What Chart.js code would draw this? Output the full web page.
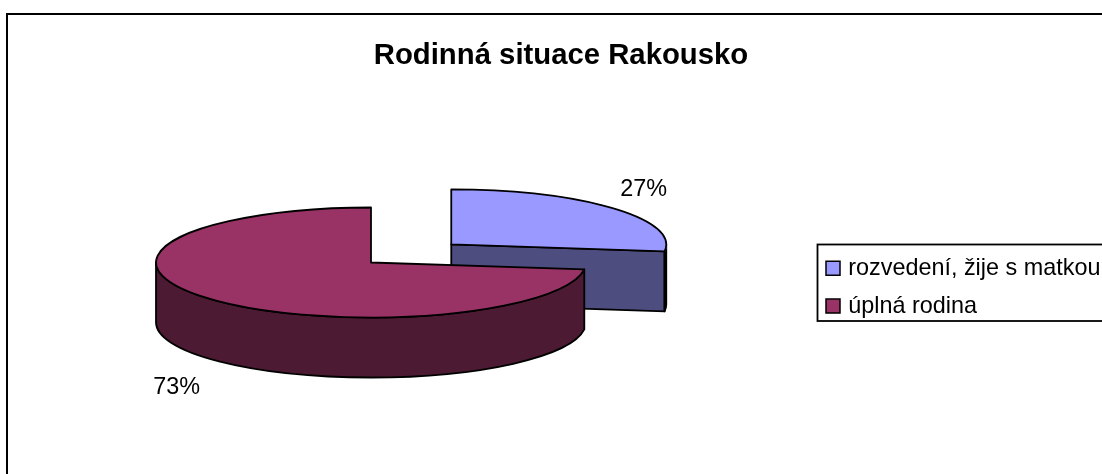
<!DOCTYPE html>
<html lang="cs"><head><meta charset="utf-8">
<style>html,body{margin:0;padding:0;background:#fff;overflow:hidden}#w{width:1102px;height:474px;position:relative}</style>
<script src="https://cdn.jsdelivr.net/npm/chart.js@4"></script>
</head><body><div id="w"><canvas id="c"></canvas></div>
<script>
const titleText = 'Rodinná situace Rakousko';
const categories = ['rozvedení, žije s matkou', 'úplná rodina'];
const shares = [27, 73];
const topColors = ['#9999FF', '#993366'];
const wallColors = ['#4D4D80', '#4D1A33'];
const sliceOffsets = [214, 0];

const ZOOM = 2, TILT = 55 / 215, DEPTH = 60, CENTER_X = 371, CENTER_Y = 262.5, LINE = 1.8;
const FONT = '"Liberation Sans", Arial, sans-serif';

function geom(arc) {
  const p = arc.getProps(['startAngle','endAngle','outerRadius']);
  const off = (arc.options.offset || 0) / 4 * ZOOM, mid = (p.startAngle + p.endAngle) / 2;
  const r = p.outerRadius * ZOOM;
  return { a0: p.startAngle, a1: p.endAngle, r, mid,
    x: CENTER_X + Math.cos(mid) * off, y: CENTER_Y + TILT * Math.sin(mid) * off, ry: r * TILT };
}

const pie3d = {
  id: 'pie3d',
  afterLayout(chart) {
    const t = chart.titleBlock; t.left = 8; t.right = 1114;
    const l = chart.legend; l.left = 815; l.top = 242; l.right = 1102; l.bottom = 474;
  },
  beforeDraw(chart) {
    const c = chart.ctx;
    c.save(); c.strokeStyle = '#000'; c.lineWidth = 2;
    c.strokeRect(7, 14, 1200, 600);
    c.lineWidth = 1.8; c.strokeRect(817.5, 244.5, 400, 76.5);
    c.restore();
  },
  beforeDatasetsDraw(chart) {
    const c = chart.ctx, arcs = chart.getDatasetMeta(0).data;
    arcs.forEach((arc, i) => {
      const g = geom(arc);
      c.save(); c.fillStyle = wallColors[i]; c.strokeStyle = '#000'; c.lineWidth = LINE; c.lineJoin = 'round';
      const ex = g.x + g.r * Math.cos(g.a1), ey = g.y + g.ry * Math.sin(g.a1);
      if (i === 0) {
        c.beginPath(); c.moveTo(g.x, g.y); c.lineTo(ex, ey); c.lineTo(ex, ey + DEPTH); c.lineTo(g.x, g.y + DEPTH); c.closePath();
        c.fill(); c.stroke();
      }
      const w0 = Math.max(g.a0, 0), w1 = Math.min(g.a1, Math.PI);
      if (w1 > w0) {
        c.beginPath();
        c.ellipse(g.x, g.y, g.r, g.ry, 0, w0, w1);
        c.ellipse(g.x, g.y + DEPTH, g.r, g.ry, 0, w1, w0, true);
        c.closePath(); c.fill(); c.stroke();
      }
      c.restore();
    });
    const a = arcs[0];
    c.save();
    c.translate(CENTER_X, CENTER_Y); c.scale(ZOOM, ZOOM * TILT); c.translate(-a.x, -a.y);
  },
  afterDatasetsDraw(chart) {
    const c = chart.ctx, arcs = chart.getDatasetMeta(0).data;
    c.restore();
    arcs.forEach(arc => {
      const g = geom(arc);
      c.save(); c.strokeStyle = '#000'; c.lineWidth = LINE; c.lineJoin = 'round';
      c.beginPath(); c.moveTo(g.x, g.y);
      c.ellipse(g.x, g.y, g.r, g.ry, 0, g.a0, g.a1);
      c.closePath(); c.stroke(); c.restore();
    });
    const total = shares.reduce((a, b) => a + b, 0);
    const nudges = [[31, -18.5], [-33, 89]];
    c.save(); c.fillStyle = '#000'; c.font = '23.4px ' + FONT; c.textAlign = 'center'; c.textBaseline = 'middle';
    arcs.forEach((arc, i) => {
      const g = geom(arc);
      const lx = g.x + g.r * Math.cos(g.mid) + nudges[i][0];
      const ly = g.y + g.ry * Math.sin(g.mid) + nudges[i][1];
      c.fillText(Math.round(shares[i] / total * 100) + '%', lx, ly);
    });
    c.restore();
  }
};

new Chart(document.getElementById('c'), {
  type: 'pie',
  data: { labels: categories, datasets: [{ data: shares, backgroundColor: topColors, borderWidth: 0, offset: sliceOffsets, radius: 107.5 }] },
  options: {
    responsive: true, maintainAspectRatio: false, animation: false,
    plugins: {
      tooltip: { enabled: false },
      title: { display: true, text: titleText, color: '#000', padding: { top: 38, bottom: 10 }, font: { family: FONT, size: 29.3, weight: 'bold' } },
      legend: {
        position: 'chartArea', align: 'start',
        labels: {
          color: '#000', boxWidth: 7, boxHeight: 14, padding: 14.5, usePointStyle: true, font: { family: FONT, size: 23.4 },
          generateLabels: () => categories.map((t, i) => ({ text: t, fillStyle: topColors[i], strokeStyle: '#000', lineWidth: 1.5, pointStyle: 'rect', index: i, hidden: false }))
        }
      }
    }
  },
  plugins: [pie3d]
});
</script></body></html>
